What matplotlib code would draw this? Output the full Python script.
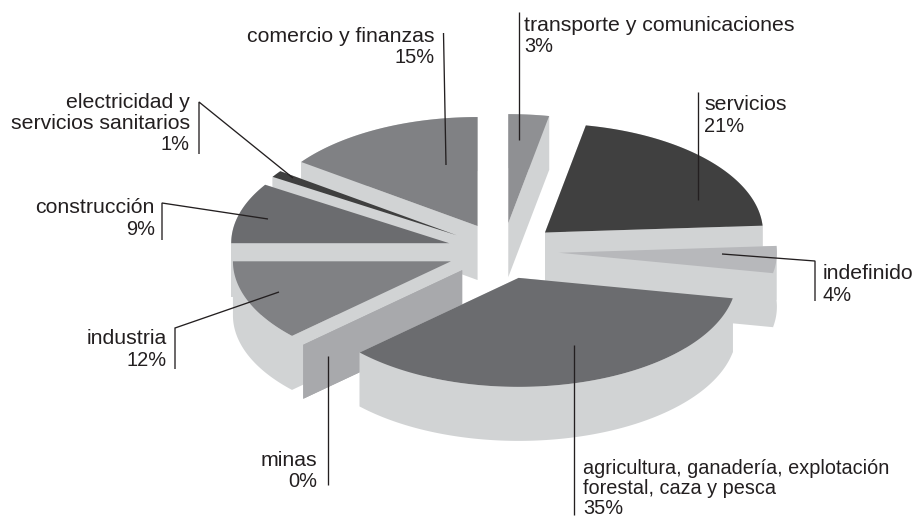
import numpy as np
from matplotlib import pyplot as plt

plt.rcParams['font.family'] = ['Liberation Sans', 'DejaVu Sans']

names = ["transporte y comunicaciones", "servicios", "indefinido",
         "agricultura, ganadería, explotación\nforestal, caza y pesca", "minas",
         "industria", "construcción", "electricidad y\nservicios sanitarios", "comercio y finanzas"]
values = [3, 21, 4, 35, 0, 12, 9, 1, 15]
colors = ["#8f9093", "#404040", "#b7b8bb", "#6b6c6f", "#a8a9ac",
          "#808184", "#6b6c6f", "#3f3f3f", "#808184"]
wall_color = "#d1d3d4"
text_color = "#231f20"

# pie geometry in pixels
CX, CY = 503, 251
RX, RY = 218, 109
EXPLODE = 56
DEPTH = 54

# label anchor: x, first baseline, alignment, size, line step
label_x = [524, 704, 823, 583, 317, 167, 155, 190, 435]
label_y = [31, 110, 279, 474, 466, 344, 213, 108, 42]
label_ha = ['left', 'left', 'left', 'left', 'right', 'right', 'right', 'right', 'right']
label_size = [15.3, 15.3, 15.3, 14.3, 15.3, 15.3, 15.3, 15.3, 15.3]
label_step = [21, 22, 22, 20, 21, 22.5, 22, 21, 21]
PCT_SIZE = 14.4

leaders = [
    [(519, 12), (519, 140)],
    [(698, 92), (698, 200)],
    [(722, 254), (815, 261), (815, 301)],
    [(574, 345), (574, 515)],
    [(328, 356), (328, 485)],
    [(175, 369), (175, 328), (279, 292)],
    [(162, 240), (162, 203), (268, 219)],
    [(199, 154), (199, 102), (293, 178)],
    [(443.5, 33), (446, 165)],
]

fig = plt.figure(figsize=(9.2, 5.18), dpi=100)
ax = fig.add_axes([0, 0, 1, 1])
ax.set_xlim(0, 920)
ax.set_ylim(518, 0)
ax.axis('off')

edges = np.cumsum([0] + values) * 3.6
mids = np.radians((edges[:-1] + edges[1:]) / 2)


def ellipse(t, ox, oy):
    return ox + RX * np.sin(t), oy - RY * np.cos(t)


def wall(xs, ys, color, z):
    # extrude a top edge straight down
    xs = np.asarray(xs, dtype=float)
    ys = np.asarray(ys, dtype=float)
    ax.fill(np.r_[xs, xs[::-1]], np.r_[ys, ys[::-1] + DEPTH], color=color, lw=0, zorder=z)


# back slices first so the front ones paint over them
order = np.argsort(-np.cos(mids))
for z, i in enumerate(order):
    ox = CX + EXPLODE * np.sin(mids[i])
    oy = CY - EXPLODE * np.cos(mids[i]) * RY / RX
    t = np.radians(np.linspace(edges[i], edges[i + 1], 120))
    x, y = ellipse(t, ox, oy)
    side = colors[i] if values[i] == 0 else wall_color

    wall(x, y, side, z)
    wall([ox, x[0]], [oy, y[0]], side, z)
    wall([ox, x[-1]], [oy, y[-1]], side, z)
    if values[i] > 0:
        ax.fill(np.r_[ox, x], np.r_[oy, y], color=colors[i], lw=0, zorder=z)

for i in range(len(names)):
    lines = names[i].split("\n")
    for k, line in enumerate(lines):
        ax.text(label_x[i], label_y[i] + k * label_step[i], line, ha=label_ha[i], va='baseline',
                fontsize=label_size[i], color=text_color, zorder=50)
    ax.text(label_x[i], label_y[i] + len(lines) * label_step[i], "{}%".format(values[i]),
            ha=label_ha[i], va='baseline', fontsize=PCT_SIZE, color=text_color, zorder=50)
    px, py = zip(*leaders[i])
    ax.plot(px, py, color=text_color, lw=0.95, zorder=40, solid_capstyle='butt', solid_joinstyle='miter')

fig.savefig("out.png", dpi=100)
